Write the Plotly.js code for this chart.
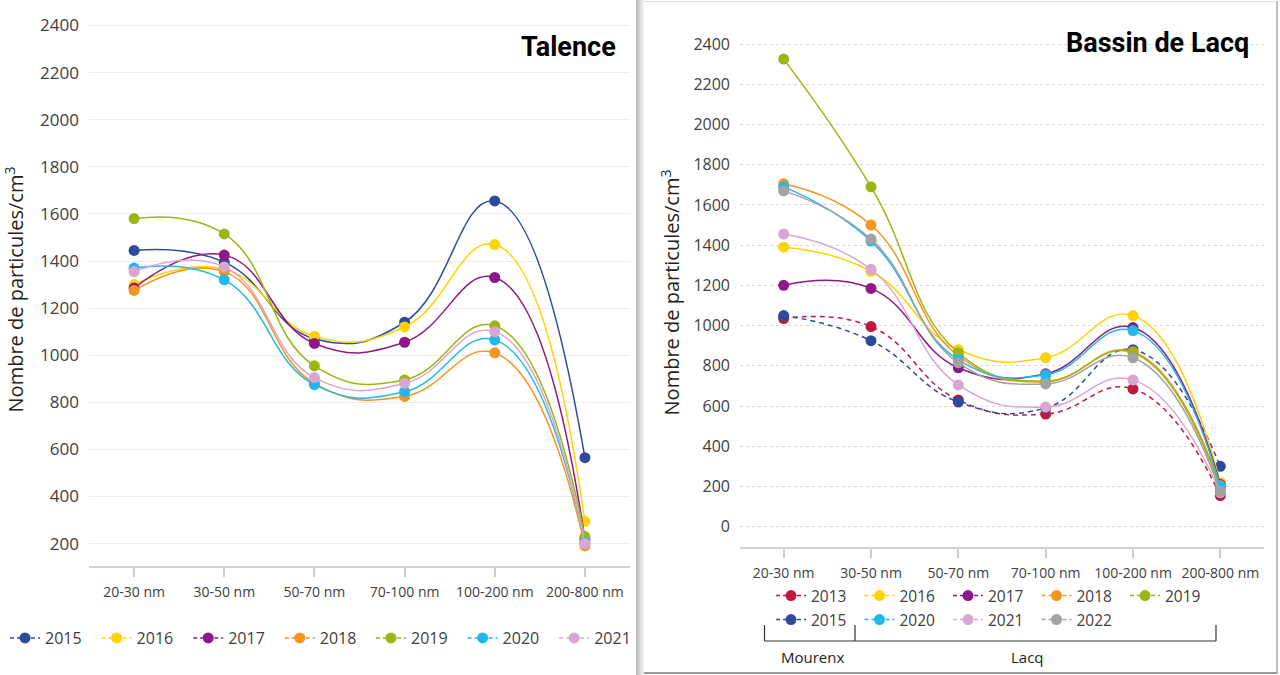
<!DOCTYPE html>
<html><head><meta charset="utf-8">
<script src="https://cdn.plot.ly/plotly-3.0.1.min.js"></script>
<style>
html,body{margin:0;padding:0;background:#fff;width:1280px;height:675px;overflow:hidden}
#left{position:absolute;left:0;top:0;width:637px;height:675px;background:#fff}
#sep{position:absolute;left:636px;top:0;width:8px;height:675px;background:linear-gradient(to right,#b5b5b5,#dadada 50%,#f3f3f3)}
#rightwrap{position:absolute;left:644px;top:1px;width:632px;height:670px;background:#fff;border-top:1px solid #e0e0e0;border-right:2px solid #bdbdbd;border-bottom:2px solid #9a9a9a}
#right{position:absolute;left:643px;top:0;width:637px;height:675px}
</style>
</head><body>
<div id="left"></div>
<div id="sep"></div>
<div id="rightwrap"></div>
<div id="right"></div>
<script>
// ---- data ----
const categories = ['20-30 nm','30-50 nm','50-70 nm','70-100 nm','100-200 nm','200-800 nm'];
const yTicksTalence = [200,400,600,800,1000,1200,1400,1600,1800,2000,2200,2400];
const yTicksLacq = [0,200,400,600,800,1000,1200,1400,1600,1800,2000,2200,2400];

// Talence
const talence2015 = [1445, 1395, 1070, 1140, 1655, 565];
const talence2016 = [1300, 1365, 1080, 1120, 1470, 295];
const talence2017 = [1285, 1425, 1050, 1055, 1330, 220];
const talence2018 = [1275, 1355, 880, 825, 1010, 190];
const talence2019 = [1580, 1515, 955, 895, 1125, 230];
const talence2020 = [1370, 1320, 875, 845, 1065, 205];
const talence2021 = [1355, 1375, 905, 880, 1100, 200];

// Bassin de Lacq (2013, 2015 : Mourenx ; others : Lacq)
const lacq2013 = [1035, 995, 630, 560, 685, 155];
const lacq2015 = [1050, 925, 620, 590, 880, 300];
const lacq2016 = [1390, 1270, 880, 840, 1050, 220];
const lacq2017 = [1200, 1185, 790, 760, 990, 210];
const lacq2018 = [1705, 1500, 850, 720, 870, 205];
const lacq2019 = [2325, 1690, 865, 725, 865, 190];
const lacq2020 = [1690, 1420, 830, 755, 975, 200];
const lacq2021 = [1455, 1280, 705, 595, 730, 170];
const lacq2022 = [1670, 1430, 815, 710, 840, 175];

const colors = {
  '2013':'#C0183F', '2015':'#2E4A9C', '2016':'#FFD200', '2017':'#8E1887',
  '2018':'#F7941D', '2019':'#9DB512', '2020':'#22B8EA', '2021':'#D8A6D1', '2022':'#A2A2A2'
};

const FONT = 'Open Sans, Noto Sans, sans-serif';

function dataTrace(name, y, dashed){
  return {x: categories, y: y, name: name, type:'scatter', mode:'lines+markers',
    line:{shape:'spline', smoothing:1.3, width:1.5, color:colors[name], dash: dashed ? '5px,4px' : 'solid'},
    marker:{size:11, color:colors[name]}, showlegend:false, hoverinfo:'x+y+name'};
}
function legendTrace(name, legendId){
  return {x:[null], y:[null], name:name, type:'scatter', mode:'lines+markers',
    line:{width:1.5, color:colors[name], dash:'4px,3px'},
    marker:{size:11, color:colors[name]}, showlegend:true, legend:legendId, hoverinfo:'skip'};
}

// ---------- LEFT : Talence ----------
(function(){
  const W=637, H=675, m={l:89, r:7, t:13, b:109, autoexpand:false};
  const pw=W-m.l-m.r, ph=H-m.t-m.b;
  const px=x=>(x-m.l)/pw, py=y=>(H-m.b-y)/ph;
  const series = [['2015',talence2015],['2016',talence2016],['2017',talence2017],['2018',talence2018],
                  ['2019',talence2019],['2020',talence2020],['2021',talence2021]];
  const traces = series.map(s=>dataTrace(s[0], s[1], false))
     .concat(series.slice(0,4).map(s=>legendTrace(s[0],'legend')))
     .concat(series.slice(4).map(s=>legendTrace(s[0],'legend2')));
  const legBase = {orientation:'h', xanchor:'left', yanchor:'middle',
      font:{size:16, color:'#404040'}, entrywidth:46.6, entrywidthmode:'pixels', itemwidth:30,
      bgcolor:'rgba(0,0,0,0)', traceorder:'normal'};
  const layout = {
    width:W, height:H, margin:m, paper_bgcolor:'rgba(0,0,0,0)', plot_bgcolor:'rgba(0,0,0,0)',
    font:{family:FONT, color:'#404040'},
    xaxis:{type:'category', range:[-0.5,5.5], showgrid:false, showline:true, linecolor:'#d2d2d2', linewidth:2,
      ticks:'outside', ticklen:9, tickwidth:1.5, tickcolor:'#cdcdcd', tickfont:{size:14, color:'#404040'},
      ticklabelstandoff:3, fixedrange:true, automargin:false},
    yaxis:{range:[105,2453], tickvals:yTicksTalence, showgrid:true, gridcolor:'#ececec', gridwidth:1,
      zeroline:false, showline:false, ticks:'', tickfont:{size:17, color:'#404040'}, ticklabelstandoff:9,
      title:{text:'Nombre de particules/cm<sup>3</sup>', font:{size:20, color:'#222'}, standoff:11},
      fixedrange:true, automargin:false},
    legend:Object.assign({}, legBase, {x:px(5), y:py(638)}),
    legend2:Object.assign({}, legBase, {x:px(371), y:py(638)}),
    annotations:[{xref:'paper', yref:'paper', x:px(618), y:py(47), xanchor:'right', yanchor:'middle',
      text:'<b>Talence</b>', showarrow:false, font:{family:'Roboto, Open Sans, sans-serif', size:27, color:'#000'}}],
    showlegend:true
  };
  Plotly.newPlot('left', traces, layout, {displayModeBar:false});
})();

// ---------- RIGHT : Bassin de Lacq ----------
(function(){
  const OX=643, W=637, H=675, m={l:97, r:16, t:38, b:128, autoexpand:false};
  const pw=W-m.l-m.r, ph=H-m.t-m.b;
  const px=x=>(x-OX-m.l)/pw, py=y=>(H-m.b-y)/ph;   // page px -> paper
  const row1 = [['2013',lacq2013],['2016',lacq2016],['2017',lacq2017],['2018',lacq2018],['2019',lacq2019]];
  const row2 = [['2015',lacq2015],['2020',lacq2020],['2021',lacq2021],['2022',lacq2022]];
  const drawOrder = [['2013',lacq2013],['2015',lacq2015],['2016',lacq2016],['2017',lacq2017],['2018',lacq2018],
                     ['2019',lacq2019],['2020',lacq2020],['2021',lacq2021],['2022',lacq2022]];
  const traces = drawOrder.map(s=>dataTrace(s[0], s[1], s[0]==='2013'||s[0]==='2015'))
    .concat(row1.map(s=>legendTrace(s[0],'legend')))
    .concat(row2.map(s=>legendTrace(s[0],'legend2')));
  const legBase = {orientation:'h', xanchor:'left', yanchor:'middle', font:{size:15.5, color:'#404040'},
      entrywidth:43.5, entrywidthmode:'pixels', itemwidth:30, bgcolor:'rgba(0,0,0,0)', traceorder:'normal'};
  const lineStyle = {color:'#333', width:1.2};
  const bx0=764.5, bx1=855, bx2=1216, byT=625, byB=641;
  const shapes = [
    {type:'line', xref:'paper', yref:'paper', x0:px(bx0), x1:px(bx0), y0:py(byT), y1:py(byB), line:lineStyle},
    {type:'line', xref:'paper', yref:'paper', x0:px(bx1), x1:px(bx1), y0:py(byT), y1:py(byB), line:lineStyle},
    {type:'line', xref:'paper', yref:'paper', x0:px(bx2), x1:px(bx2), y0:py(byT), y1:py(byB), line:lineStyle},
    {type:'line', xref:'paper', yref:'paper', x0:px(bx0), x1:px(bx2), y0:py(byB), y1:py(byB), line:lineStyle}
  ];
  const layout = {
    width:W, height:H, margin:m, paper_bgcolor:'rgba(0,0,0,0)', plot_bgcolor:'rgba(0,0,0,0)',
    font:{family:FONT, color:'#404040'},
    xaxis:{type:'category', range:[-0.5,5.5], showgrid:false, showline:true, linecolor:'#d2d2d2', linewidth:2,
      ticks:'outside', ticklen:9, tickwidth:1.5, tickcolor:'#cdcdcd', tickfont:{size:14, color:'#404040'},
      ticklabelstandoff:3, fixedrange:true, automargin:false},
    yaxis:{range:[-101,2430], tickvals:yTicksLacq, showgrid:true, gridcolor:'#d6d6d6', gridwidth:1, griddash:'dot',
      zeroline:false, showline:false, ticks:'', tickfont:{size:16, color:'#404040'}, ticklabelstandoff:9,
      title:{text:'Nombre de particules/cm<sup>3</sup>', font:{size:20, color:'#222'}, standoff:8},
      fixedrange:true, automargin:false},
    legend:Object.assign({}, legBase, {x:px(771), y:py(596)}),
    legend2:Object.assign({}, legBase, {x:px(771), y:py(620)}),
    shapes:shapes,
    annotations:[
      {xref:'paper', yref:'paper', x:px(1251), y:py(43), xanchor:'right', yanchor:'middle',
       text:'<b>Bassin de Lacq</b>', showarrow:false, font:{family:'Roboto, Open Sans, sans-serif', size:27, color:'#000'}},
      {xref:'paper', yref:'paper', x:px(812), y:py(657), xanchor:'center', yanchor:'middle',
       text:'Mourenx', showarrow:false, font:{size:15, color:'#222'}},
      {xref:'paper', yref:'paper', x:px(1027), y:py(657), xanchor:'center', yanchor:'middle',
       text:'Lacq', showarrow:false, font:{size:15, color:'#222'}}
    ],
    showlegend:true
  };
  Plotly.newPlot('right', traces, layout, {displayModeBar:false});
})();
</script>
</body></html>
